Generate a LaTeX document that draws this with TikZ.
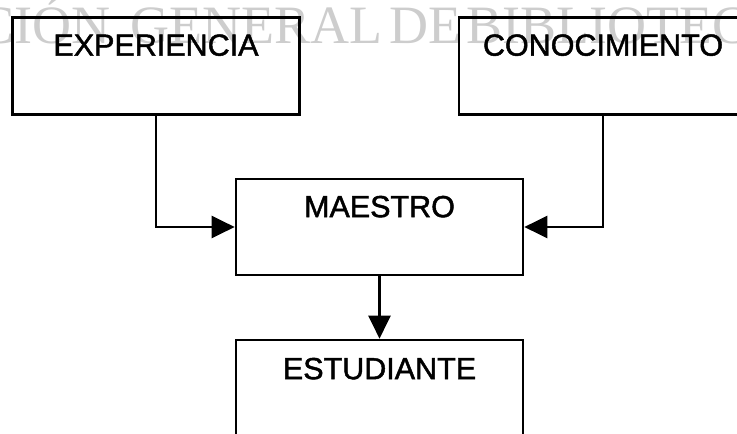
\documentclass[tikz,border=0pt]{standalone}
\usepackage{fontspec}
\setmainfont{Liberation Serif}
\newfontfamily\boxfont[FakeBold=1.5]{Liberation Sans}
\usetikzlibrary{arrows.meta}
\definecolor{wmgray}{RGB}{205,205,205}
\tikzset{
  box/.style={draw=black, line width=2.7pt, rectangle, minimum width=287pt, minimum height=97pt, inner sep=0pt},
  boxtext/.style={font=\boxfont\fontsize{30.5}{30.5}\selectfont, inner sep=0pt, anchor=center},
  wm/.style={font=\fontsize{54}{54}\selectfont, text=wmgray, inner sep=0pt},
  conn/.style={line width=2.7pt, -{Triangle[length=23pt,width=22pt]}},
}
\begin{document}
\begin{tikzpicture}[x=1pt,y=-1pt]
\useasboundingbox (0,0) rectangle (737,434);
\clip (0,0) rectangle (737,434);
\fill[white] (0,0) rectangle (737,434);
% watermark
\node[wm, anchor=base east] (wm1) at (111,43) {CIÓN};
\node[wm, anchor=base west] (wm2) at (130,43) {GENERAL};
\node[wm, anchor=base west] (wm3) at (389,43) {DE};
\node[wm, anchor=base west] (wm4) at (466,43) {BIBLIOTECAS};
% boxes
\node[box] (exp) at (156,66) {};
\node[box, minimum width=288pt] (con) at (603,66) {};
\node[box, minimum height=96pt] (mae) at (379.5,227) {};
\node[box, minimum height=96pt] (est) at (379.5,388) {};
% texts
\node[boxtext] (expt) at ([yshift=-29pt]exp.north) {EXPERIENCIA};
\node[boxtext] (cont) at ([yshift=-29pt]con.north) {CONOCIMIENTO};
\node[boxtext] (maet) at ([yshift=-29pt]mae.north) {MAESTRO};
\node[boxtext] (estt) at ([yshift=-30pt]est.north) {ESTUDIANTE};
% connectors
\draw[conn] (exp.south) |- (mae.west);
\draw[conn] (con.south) |- (mae.east);
\draw[conn] (mae.south) -- (est.north);
\end{tikzpicture}
\end{document}
